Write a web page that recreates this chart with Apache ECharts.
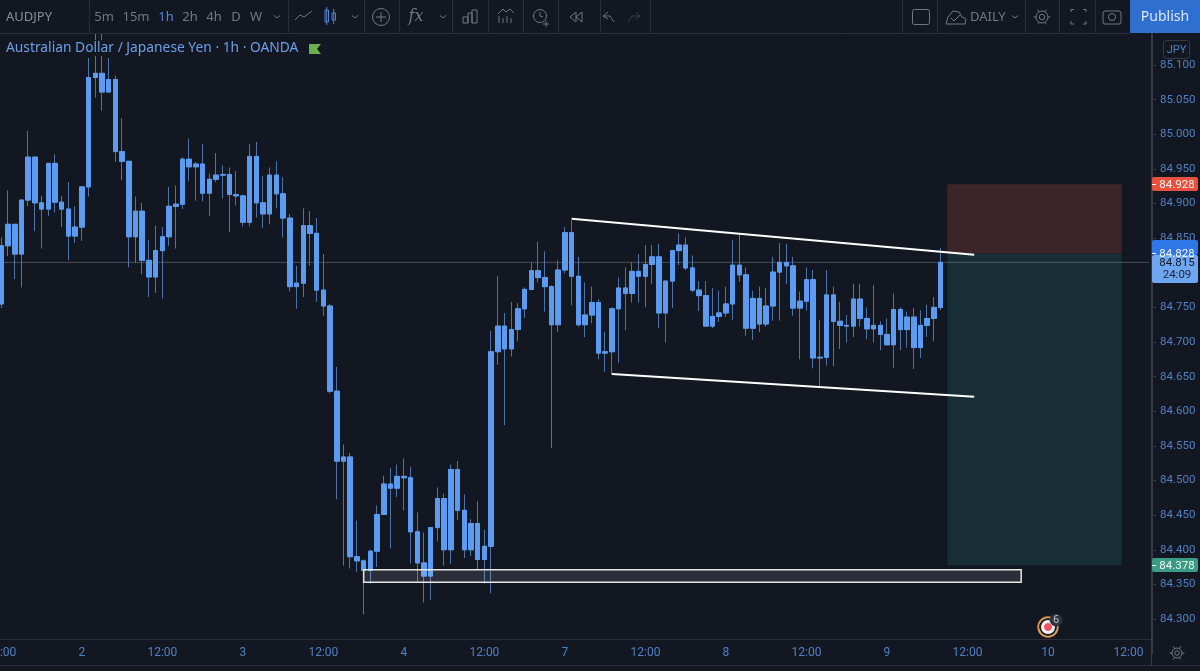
<!DOCTYPE html>
<html>
<head>
<meta charset="utf-8">
<title>AUDJPY</title>
<style>
    html, body { margin: 0; padding: 0; background: #131722; }
    #chart { width: 1200px; height: 671px; }
</style>
<script src="https://cdn.jsdelivr.net/npm/echarts@6/dist/echarts.min.js"></script>
</head>
<body>
<div id="chart"></div>
<script>
// candles, first one is the 12:00 bar of day 1
const opens = [84.755,84.839,84.870,84.827,84.905,84.967,84.901,84.892,84.958,84.902,84.892,84.853,84.866,84.924,85.082,85.088,85.061,85.079,84.975,84.961,84.852,84.889,84.818,84.794,84.832,84.852,84.896,84.899,84.964,84.953,84.957,84.915,84.935,84.941,84.942,84.913,84.911,84.873,84.968,84.901,84.885,84.941,84.914,84.879,84.780,84.785,84.868,84.857,84.775,84.752,84.629,84.528,84.534,84.390,84.384,84.370,84.398,84.451,84.495,84.489,84.506,84.504,84.426,84.381,84.362,84.432,84.474,84.400,84.516,84.457,84.400,84.438,84.386,84.405,84.686,84.723,84.690,84.718,84.748,84.776,84.803,84.793,84.780,84.725,84.804,84.858,84.795,84.725,84.739,84.757,84.684,84.686,84.748,84.778,84.770,84.802,84.795,84.812,84.823,84.742,84.788,84.832,84.840,84.807,84.775,84.767,84.723,84.737,84.742,84.755,84.811,84.797,84.720,84.763,84.726,84.752,84.801,84.815,84.810,84.749,84.759,84.790,84.677,84.678,84.768,84.730,84.724,84.723,84.762,84.734,84.719,84.724,84.711,84.696,84.747,84.718,84.736,84.692,84.724,84.734,84.750];
const closes = [84.839,84.870,84.827,84.905,84.967,84.901,84.892,84.958,84.902,84.892,84.853,84.866,84.924,85.082,85.088,85.061,85.079,84.975,84.961,84.852,84.889,84.818,84.794,84.832,84.852,84.896,84.899,84.964,84.953,84.957,84.915,84.935,84.941,84.942,84.913,84.911,84.873,84.968,84.901,84.885,84.941,84.914,84.879,84.780,84.785,84.868,84.857,84.775,84.752,84.629,84.528,84.534,84.390,84.384,84.370,84.398,84.451,84.495,84.489,84.506,84.504,84.426,84.381,84.362,84.432,84.474,84.400,84.516,84.457,84.400,84.438,84.386,84.405,84.686,84.723,84.690,84.718,84.748,84.776,84.803,84.793,84.780,84.725,84.804,84.858,84.795,84.725,84.739,84.757,84.684,84.686,84.748,84.778,84.770,84.802,84.795,84.812,84.823,84.742,84.788,84.832,84.840,84.807,84.775,84.767,84.723,84.737,84.742,84.755,84.811,84.797,84.720,84.763,84.726,84.752,84.801,84.815,84.810,84.749,84.759,84.790,84.677,84.678,84.768,84.730,84.724,84.723,84.762,84.734,84.719,84.724,84.711,84.696,84.747,84.718,84.736,84.692,84.724,84.734,84.750,84.815];
const lows = [84.749,84.824,84.791,84.779,84.896,84.860,84.835,84.882,84.887,84.866,84.818,84.843,84.846,84.910,85.053,85.034,85.061,84.960,84.934,84.808,84.814,84.798,84.765,84.771,84.763,84.839,84.835,84.892,84.932,84.904,84.903,84.882,84.931,84.907,84.859,84.897,84.867,84.867,84.880,84.865,84.870,84.893,84.851,84.773,84.748,84.765,84.810,84.758,84.738,84.626,84.473,84.377,84.373,84.368,84.307,84.351,84.375,84.450,84.402,84.476,84.457,84.380,84.353,84.324,84.327,84.412,84.377,84.380,84.443,84.388,84.391,84.371,84.351,84.337,84.667,84.580,84.679,84.701,84.735,84.776,84.786,84.744,84.547,84.715,84.799,84.753,84.722,84.707,84.727,84.675,84.657,84.653,84.670,84.717,84.757,84.757,84.750,84.784,84.720,84.699,84.749,84.811,84.804,84.772,84.745,84.723,84.720,84.729,84.736,84.732,84.787,84.709,84.703,84.714,84.722,84.731,84.731,84.784,84.738,84.675,84.745,84.662,84.636,84.666,84.665,84.690,84.699,84.707,84.722,84.704,84.699,84.688,84.695,84.663,84.688,84.692,84.661,84.677,84.707,84.701,84.746];
const highs = [84.851,84.919,84.870,84.905,85.005,84.968,84.911,84.958,84.971,84.911,84.931,84.896,84.925,85.110,85.145,85.145,85.110,85.085,85.023,84.961,84.910,84.901,84.847,84.868,84.866,84.924,84.926,84.967,84.994,84.960,84.986,84.943,84.973,84.955,84.952,84.947,84.913,84.986,84.989,84.940,84.952,84.961,84.938,84.885,84.810,84.893,84.889,84.879,84.827,84.755,84.664,84.552,84.540,84.442,84.386,84.400,84.464,84.507,84.518,84.523,84.532,84.520,84.454,84.425,84.433,84.490,84.481,84.523,84.528,84.480,84.444,84.470,84.429,84.716,84.795,84.742,84.758,84.756,84.779,84.815,84.845,84.831,84.782,84.818,84.866,84.876,84.823,84.786,84.780,84.762,84.715,84.750,84.793,84.808,84.815,84.827,84.840,84.840,84.842,84.788,84.833,84.857,84.851,84.825,84.788,84.788,84.778,84.774,84.780,84.847,84.855,84.808,84.774,84.780,84.778,84.823,84.843,84.842,84.823,84.773,84.808,84.804,84.732,84.804,84.780,84.758,84.739,84.784,84.784,84.750,84.782,84.730,84.734,84.770,84.750,84.744,84.749,84.746,84.754,84.765,84.836];

// day labels that the time axis walks through, weekend is skipped
const dayLabels = ['1', '2', '3', '4', '7', '8', '9', '10', '11'];
const barCount = 172;

// drawings on the chart
const stopPrice = 84.928;
const entryPrice = 84.828;
const targetPrice = 84.378;
const lastPrice = 84.815;
const countdown = '24:09';
const upperTrend = [[85, 84.878], [145, 84.826]];
const lowerTrend = [[91, 84.654], [145, 84.621]];
const zoneIndex = [54, 152];
const zonePrices = [84.371, 84.353];
const positionIndex = [141, 167];

const bg = '#131722';
const axisBlue = '#4f80c4';
const toolGrey = '#737783';
const borderGrey = '#2a2e39';
const fontName = '"Noto Sans", sans-serif';
const axisFont = 'Roboto, "Noto Sans", sans-serif';

function buildCategories() {
    const cats = [];
    for (let i = 0; i < barCount; i++) {
        const hour = (i + 12) % 24;
        const day = dayLabels[Math.floor((i + 12) / 24)];
        cats.push(hour === 0 ? day : (hour < 10 ? '0' : '') + hour + ':00');
    }
    return cats;
}

const wickData = opens.map((o, i) => [o, closes[i], lows[i], highs[i]]);
const bodyData = opens.map((o, i) => [o, closes[i], Math.min(o, closes[i]), Math.max(o, closes[i])]);

const chart = echarts.init(document.getElementById('chart'));

chart.setOption({
    animation: false,
    backgroundColor: bg,
    title: {
        text: 'Australian Dollar / Japanese Yen · 1h · OANDA',
        left: 2,
        top: 40,
        padding: [1, 4, 1, 4],
        backgroundColor: bg,
        textStyle: { color: '#6aa0e8', fontSize: 13.8, fontWeight: 'normal', fontFamily: fontName }
    },
    grid: { left: -2, right: 48, top: 30.4, bottom: 17.35, outerBoundsMode: 'none' },
    xAxis: {
        type: 'category',
        data: buildCategories(),
        boundaryGap: true,
        containShape: false,
        axisLine: { show: false },
        axisTick: { show: false },
        splitLine: { show: false },
        axisLabel: {
            interval: 11,
            margin: -7,
            color: axisBlue,
            fontSize: 12,
            fontFamily: axisFont,
            hideOverlap: false
        }
    },
    yAxis: {
        type: 'value',
        position: 'right',
        min: 84.25,
        max: 85.15,
        interval: 0.05,
        scale: true,
        splitLine: { show: false },
        axisLine: { show: true, lineStyle: { color: '#363a45' } },
        axisTick: { show: true, length: 4, lineStyle: { color: '#363a45' } },
        axisLabel: {
            showMinLabel: false,
            showMaxLabel: false,
            margin: 8,
            color: axisBlue,
            fontSize: 11.5,
            fontFamily: axisFont,
            formatter: v => v.toFixed(3)
        }
    },
    series: [
        {
            name: 'last price',
            type: 'line',
            data: [[0, lastPrice], [barCount - 1, lastPrice]],
            symbol: 'none',
            z: 2,
            lineStyle: { color: '#7d8494', type: 'dotted', width: 1 }
        },
        {
            name: 'wicks',
            type: 'candlestick',
            data: wickData,
            barWidth: 5,
            z: 3,
            itemStyle: { color: '#4c74a8', color0: '#4c74a8', borderColor: '#4c74a8', borderColor0: '#4c74a8', borderWidth: 1 },
            markArea: {
                silent: true,
                z: 1,
                data: [
                    [
                        { xAxis: positionIndex[0], yAxis: stopPrice, itemStyle: { color: '#3d2429' } },
                        { xAxis: positionIndex[1], yAxis: entryPrice }
                    ],
                    [
                        { xAxis: positionIndex[0], yAxis: entryPrice, itemStyle: { color: '#172f34' } },
                        { xAxis: positionIndex[1], yAxis: targetPrice }
                    ]
                ]
            }
        },
        {
            name: 'bodies',
            type: 'candlestick',
            data: bodyData,
            barWidth: 5,
            z: 4,
            itemStyle: { color: '#5b9cf0', color0: '#5b9cf0', borderColor: '#5b9cf0', borderColor0: '#5b9cf0', borderWidth: 1 }
        },
        {
            name: 'upper trend',
            type: 'line',
            data: upperTrend,
            symbol: 'none',
            z: 6,
            lineStyle: { color: '#ffffff', width: 2 }
        },
        {
            name: 'lower trend',
            type: 'line',
            data: lowerTrend,
            symbol: 'none',
            z: 6,
            lineStyle: { color: '#ffffff', width: 2 }
        },
        {
            name: 'demand zone',
            type: 'custom',
            z: 6,
            clip: false,
            data: [[zoneIndex[0], zonePrices[0], zoneIndex[1], zonePrices[1]]],
            renderItem: function (params, api) {
                const a = api.coord([api.value(0), api.value(1)]);
                const b = api.coord([api.value(2), api.value(3)]);
                return {
                    type: 'rect',
                    shape: { x: a[0], y: a[1], width: b[0] - a[0], height: b[1] - a[1] },
                    style: { fill: 'rgba(255,255,255,0.1)', stroke: '#e6e6e6', lineWidth: 1.5 }
                };
            }
        }
    ]
});

// helpers for the toolbar and the price tags
function txt(x, y, text, color, size, align, font) {
    return {
        type: 'text', z: 50, x: x, y: y,
        style: { text: text, fill: color, fontSize: size || 13, fontFamily: font || fontName, align: align || 'center', verticalAlign: 'middle' }
    };
}
function seg(x1, y1, x2, y2, color, width) {
    return { type: 'line', z: 50, shape: { x1, y1, x2, y2 }, style: { stroke: color || borderGrey, lineWidth: width || 1 } };
}
function poly(points, color) {
    return { type: 'polyline', z: 50, shape: { points: points }, style: { stroke: color || toolGrey, lineWidth: 1, fill: 'none' } };
}
function box(x, y, w, h, fill, stroke, r) {
    return { type: 'rect', z: 49, shape: { x, y, width: w, height: h, r: r || 0 }, style: { fill: fill || 'none', stroke: stroke || 'none', lineWidth: 1 } };
}
function ring(cx, cy, r, fill, stroke, lw) {
    return { type: 'circle', z: 50, shape: { cx, cy, r }, style: { fill: fill || 'none', stroke: stroke || toolGrey, lineWidth: lw || 1 } };
}
function chevron(x) {
    return poly([[x - 3, 15.5], [x, 18], [x + 3, 15.5]]);
}
function gear(cx, cy, r) {
    const out = [ring(cx, cy, r), ring(cx, cy, r * 0.45)];
    [0, 60, 120, 180, 240, 300].forEach(a => {
        const t = a * Math.PI / 180;
        out.push(seg(cx + r * Math.cos(t), cy + r * Math.sin(t), cx + (r + 2.5) * Math.cos(t), cy + (r + 2.5) * Math.sin(t), toolGrey));
    });
    return out;
}

function buildToolbar() {
    const out = [box(0, 0, 1200, 33, bg), seg(0, 33.5, 1130, 33.5)];
    [89, 288, 364, 399, 452, 488, 523, 558, 600, 650, 902, 937, 1025, 1059, 1095].forEach(x => {
        out.push(seg(x + 0.5, 0, x + 0.5, 33));
    });
    out.push(txt(6, 17, 'AUDJPY', '#8a8e99', 13, 'left'));
    [['5m', 104], ['15m', 136], ['2h', 190], ['4h', 214], ['D', 236], ['W', 256]].forEach(t => {
        out.push(txt(t[1], 17, t[0], toolGrey, 13));
    });
    out.push(txt(166, 17, '1h', '#4f86d8', 13));
    [277, 355, 443, 1015].forEach(x => out.push(chevron(x)));

    // line and candle style icons
    out.push(poly([[295, 20], [300, 15], [304, 17], [312, 11]]));
    out.push(box(325, 10, 3.5, 12, 'none', '#4f86d8'));
    out.push(box(332, 13, 3.5, 7, 'none', '#4f86d8'));
    out.push(seg(326.7, 7, 326.7, 25, '#4f86d8'));
    out.push(seg(333.7, 9, 333.7, 24, '#4f86d8'));

    // add symbol, indicators
    out.push(ring(381, 17, 8.5));
    out.push(seg(376, 17, 386, 17, toolGrey));
    out.push(seg(381, 12, 381, 22, toolGrey));
    out.push({
        type: 'text', z: 50, x: 416, y: 17,
        style: { text: 'fx', fill: toolGrey, fontSize: 16, fontStyle: 'italic', fontFamily: '"DejaVu Serif", serif', align: 'center', verticalAlign: 'middle' }
    });

    // bars, compare, alarm, replay
    out.push(poly([[463, 23], [463, 17], [468, 17], [468, 23], [463, 23]]));
    out.push(poly([[468, 23], [468, 13], [472, 13], [472, 23]]));
    out.push(poly([[472, 23], [472, 10], [477, 10], [477, 23], [472, 23]]));
    out.push(poly([[498, 14], [503, 9], [506, 12], [510, 9], [514, 13]]));
    [499, 503, 507, 511].forEach((x, i) => out.push(seg(x, 23, x, 16 + (i % 2) * 2, toolGrey)));
    out.push(ring(540, 16, 6.5));
    out.push(poly([[540, 12], [540, 16], [543, 17]]));
    out.push(seg(543, 24, 549, 24, toolGrey));
    out.push(seg(546, 21, 546, 27, toolGrey));
    out.push(poly([[576, 12], [570, 17], [576, 22], [576, 12]]));
    out.push(poly([[582, 12], [576, 17], [582, 22], [582, 12]]));

    // undo and redo
    out.push(poly([[608, 12], [603, 16], [608, 19]], '#6b6f7a'));
    out.push(poly([[603, 16], [610, 16], [614, 22]], '#6b6f7a'));
    out.push(poly([[636, 12], [640, 16], [636, 19]], '#3a3e49'));
    out.push(poly([[640, 16], [632, 16], [628, 22]], '#3a3e49'));

    // right side of the toolbar
    out.push(box(912.5, 9.5, 17, 15, 'none', toolGrey, 2));
    out.push(poly([[946, 24], [948, 17], [953, 11], [959, 12], [962, 17], [966, 19], [965, 24], [946, 24]]));
    out.push(poly([[951, 18], [954, 21], [960, 15]]));
    out.push(txt(970, 17, 'DAILY', toolGrey, 13, 'left'));
    gear(1042, 17, 6).forEach(g => out.push(g));
    out.push(poly([[1071, 12], [1071, 9.5], [1074, 9.5]]));
    out.push(poly([[1083, 9.5], [1086, 9.5], [1086, 12]]));
    out.push(poly([[1071, 21], [1071, 24], [1074, 24]]));
    out.push(poly([[1083, 24], [1086, 24], [1086, 21]]));
    out.push(box(1103, 11, 18, 13, 'none', toolGrey, 2));
    out.push(ring(1112, 17, 3.5));
    out.push(box(1130, 0, 70, 33, '#2f6fd0'));
    out.push(txt(1165, 17, 'Publish', '#dbe7fb', 14));
    return out;
}

function buildAxisBits() {
    const out = [
        seg(0, 639.5, 1152, 639.5),
        seg(0, 665.5, 1200, 665.5),
        seg(1151.5, 33, 1151.5, 666, '#363a45'),
        box(1163.5, 40.5, 26, 18, bg, '#363a45', 3),
        txt(1176.5, 50, 'JPY', axisBlue, 11, 'center', axisFont)
    ];
    gear(1177, 653, 5).forEach(g => out.push(g));
    // green flag behind the title
    out.push({
        type: 'polygon', z: 51,
        shape: { points: [[309, 44], [321, 44], [317, 49], [321, 54], [309, 54]] },
        style: { fill: '#6ab04c' }
    });
    // logo with the badge, bottom of the chart
    out.push(ring(1048, 627, 10, '#f2f2f2', '#e0913a', 1.5));
    out.push(ring(1048, 627, 8, 'none', '#1b1b22', 2));
    out.push(ring(1048, 627, 3.5, '#ef5361', '#ef5361'));
    out.push(ring(1056, 620, 6, '#2f333e', '#2f333e'));
    out.push(txt(1056, 620, '6', '#c9ccd4', 10));
    return out;
}

function priceTag(price, color, textColor, text, top, bottom) {
    const y = Math.round(chart.convertToPixel({ yAxisIndex: 0 }, price));
    return [
        box(1152, y - top, 46, top + bottom, color, null, 2),
        seg(1152, y + 0.5, 1156, y + 0.5, textColor),
        txt(1177, y + 1, text, textColor, 11.5, 'center', axisFont)
    ];
}

function buildTags() {
    const lastY = chart.convertToPixel({ yAxisIndex: 0 }, lastPrice);
    return [].concat(
        priceTag(stopPrice, '#e8513d', '#f5f5f5', stopPrice.toFixed(3), 7, 7),
        priceTag(targetPrice, '#3a9c85', '#f5f5f5', targetPrice.toFixed(3), 7, 7),
        [box(1152, 255, 46, 28, '#6ea6f2', null, 2)],
        priceTag(entryPrice, '#2f76e6', '#f5f5f5', entryPrice.toFixed(3), 13, 2),
        [
            txt(1177, lastY + 0.5, lastPrice.toFixed(3), '#131722', 11.5, 'center', axisFont),
            txt(1177, lastY + 13, countdown, '#1c2433', 11.5, 'center', axisFont)
        ]
    );
}

chart.setOption({
    graphic: { elements: [].concat(buildToolbar(), buildAxisBits(), buildTags()) }
});
</script>
</body>
</html>
